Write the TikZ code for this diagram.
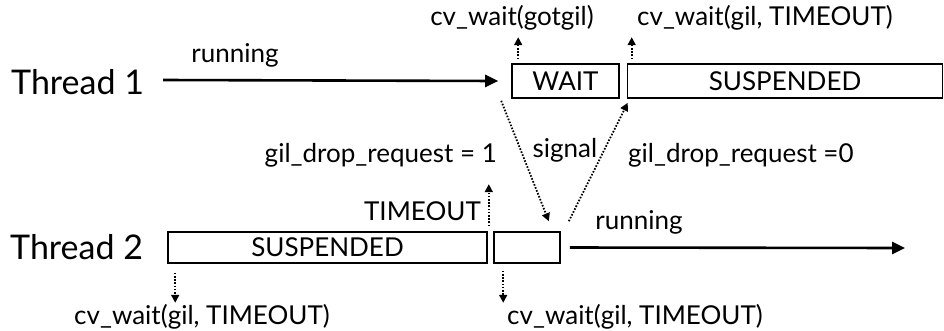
\documentclass[tikz,border=0pt]{standalone}
\usepackage{fontspec}
\setmainfont{Lato}
\usetikzlibrary{arrows.meta}

\tikzset{
  lbl/.style={inner sep=0pt, font=\fontsize{26}{29}\selectfont},
  thr/.style={inner sep=0pt, font=\fontsize{34}{37}\selectfont},
  statebox/.style={draw, line width=1.6pt, inner sep=0pt,
    font=\fontsize{26}{29}\selectfont},
  run/.style={line width=2.6pt, -{Triangle[length=13pt,width=12pt]}},
  sig/.style={dash pattern=on 1.6pt off 1.6pt, line width=1.8pt,
    -{Triangle[length=8pt,width=8pt]}}
}

\begin{document}
\begin{tikzpicture}[x=1pt,y=-1pt]
  \useasboundingbox (0,0) rectangle (944,330);

  % thread 1
  \node[thr, anchor=west] (t1) at (11,82) {Thread 1};
  \node[statebox, minimum width=107, minimum height=34] (wait) at (565.5,81) {WAIT};
  \node[statebox, minimum width=315, minimum height=34] (susp1) at (785,81) {SUSPENDED};
  \coordinate (t1start) at (163,80);
  \coordinate (t1end) at ([xshift=-13]wait.west);
  \draw[run] (t1start) -- (t1end);
  \node[lbl] (run1) at (235,55) {running};

  \node[lbl] (gotgil) at (512,18) {cv\_wait(gotgil)};
  \node[lbl, anchor=west] (cvtop) at (637,18) {cv\_wait(gil, TIMEOUT)};
  \draw[sig] ([xshift=7,yshift=4]wait.north west) -- ([xshift=7,yshift=26]wait.north west);
  \draw[sig] ([xshift=5,yshift=4]susp1.north west) -- ([xshift=5,yshift=26]susp1.north west);

  % thread 2
  \node[thr, anchor=west] (t2) at (10,247) {Thread 2};
  \node[statebox, minimum width=319, minimum height=31] (susp2) at (327.5,247.5) {SUSPENDED};
  \node[statebox, minimum width=66, minimum height=31] (gap) at (527,247.5) {};
  \coordinate (t2end) at (905,248);
  \draw[run] ([xshift=9]gap.east) -- (t2end);
  \node[lbl] (run2) at (639,222) {running};

  % handoff
  \draw[sig] ([xshift=-10,yshift=-2]wait.south west) -- ([xshift=-12,yshift=10]gap.north east);
  \draw[sig] ([xshift=8,yshift=10]gap.north east) -- ([xshift=1,yshift=-4]susp1.south west);
  \node[lbl] (signal) at (565,150) {signal};
  \node[lbl, anchor=east] (req1) at (497,155) {gil\_drop\_request = 1};
  \node[lbl, anchor=west] (req0) at (628,155) {gil\_drop\_request =0};

  \node[lbl, anchor=east] (tmo) at (481,211) {TIMEOUT};
  \draw[sig] ([xshift=1,yshift=5]susp2.north east) -- ([xshift=1,yshift=47]susp2.north east);

  \node[lbl] (cvbl) at (202,317) {cv\_wait(gil, TIMEOUT)};
  \node[lbl] (cvbr) at (635,317) {cv\_wait(gil, TIMEOUT)};
  \draw[sig] ([xshift=8,yshift=-9]susp2.south west) -- ([xshift=8,yshift=-39]susp2.south west);
  \draw[sig] ([xshift=10,yshift=-7]gap.south west) -- ([xshift=10,yshift=-39]gap.south west);
\end{tikzpicture}
\end{document}
